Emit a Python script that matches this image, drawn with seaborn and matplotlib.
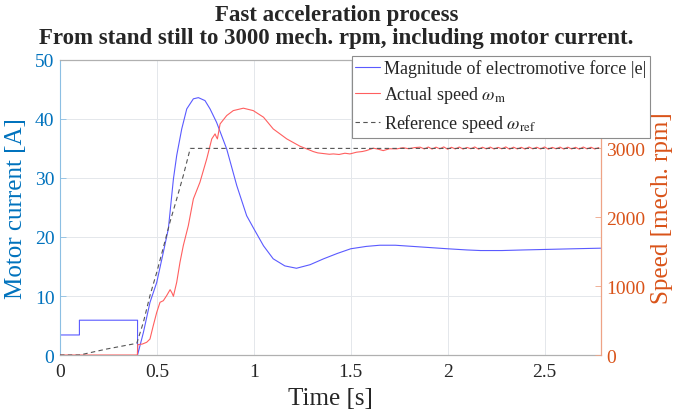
import matplotlib
matplotlib.use("Agg")
import matplotlib.pyplot as plt
from matplotlib.ticker import FormatStrFormatter
import seaborn as sns

# motor current / |e| (left axis, A)
cur_t = [0, 0.1, 0.1, 0.4, 0.4, 0.43, 0.464, 0.499, 0.533, 0.559, 0.585, 0.602, 0.628,
         0.654, 0.688, 0.714, 0.748, 0.774, 0.808, 0.86, 0.912, 0.963, 1.0, 1.05, 1.10,
         1.16, 1.22, 1.29, 1.36, 1.43, 1.50, 1.58, 1.65, 1.73, 1.82, 1.91, 2.0, 2.1,
         2.17, 2.28, 2.39, 2.52, 2.65, 2.79]
cur_a = [3.4, 3.4, 5.9, 5.9, 0.0, 3.8, 8.9, 12.3, 17.4, 21.4, 29.8, 33.8, 38.3,
         41.7, 43.4, 43.6, 43.1, 41.7, 39.4, 34.9, 28.7, 23.6, 21.4, 18.5, 16.3,
         15.1, 14.7, 15.3, 16.3, 17.2, 18.0, 18.4, 18.6, 18.6, 18.4, 18.2, 18.0, 17.8,
         17.7, 17.7, 17.8, 17.9, 18.0, 18.1]

# actual speed (right axis, rpm)
spd_t = [0, 0.399, 0.401, 0.425, 0.447, 0.464, 0.481, 0.499, 0.516, 0.533, 0.55, 0.568,
         0.578, 0.585, 0.602, 0.619, 0.636, 0.662, 0.688, 0.722, 0.757, 0.783, 0.80,
         0.806, 0.812, 0.826, 0.86, 0.894, 0.946, 0.997, 1.05, 1.10, 1.17, 1.238, 1.28,
         1.307, 1.33, 1.36, 1.39, 1.41, 1.44, 1.47, 1.496, 1.53, 1.56, 1.58, 1.617,
         1.64, 1.668, 1.70, 1.737, 1.77, 1.80, 1.83, 1.858,
         1.88, 1.90, 1.92, 1.94, 1.96, 1.98, 2.00, 2.02, 2.04, 2.06, 2.08, 2.10, 2.12,
         2.14, 2.16, 2.18, 2.20, 2.22, 2.24, 2.26, 2.28, 2.30, 2.32, 2.34, 2.36, 2.38,
         2.40, 2.42, 2.44, 2.46, 2.48, 2.50, 2.52, 2.54, 2.56, 2.58, 2.60, 2.62, 2.64,
         2.66, 2.68, 2.70, 2.72, 2.74, 2.76, 2.78]
spd_rpm = [0, 0, 150, 160, 185, 232, 426, 620, 766, 789, 862, 949,
           900, 853, 1056, 1347, 1588, 1879, 2266, 2509, 2848, 3138, 3211,
           3170, 3138, 3356, 3477, 3549, 3584, 3549, 3453, 3283, 3138, 3032, 2985,
           2954, 2935, 2925, 2915, 2920, 2912, 2930, 2920, 2945, 2955, 2968, 3003,
           2990, 2968, 2995, 2993, 3010, 2995, 3012, 3018,
           2992, 3020, 2990, 3018, 2994, 3022, 2988, 3016, 2992, 3020, 2990, 3014, 2995,
           3021, 2989, 3017, 2993, 3019, 2991, 3015, 2994, 3022, 2988, 3018, 2992, 3016,
           2990, 3020, 2993, 3017, 2991, 3021, 2989, 3015, 2994, 3019, 2990, 3018, 2992,
           3016, 2989, 3020, 2993, 3017, 2991, 3012]

# reference speed (right axis, rpm)
ref_t = [0, 0.1, 0.24, 0.396, 0.43, 0.464, 0.499, 0.533, 0.567, 0.602, 0.636, 0.672, 2.79]
ref_rpm = [0, 0, 87, 170, 475, 862, 1201, 1560, 1928, 2266, 2605, 3000, 3000]

title = "Fast acceleration process\nFrom stand still to 3000 mech. rpm, including motor current."
lab_cur = "Magnitude of electromotive force |e|"
lab_spd = r"Actual speed $\omega_{\mathrm{m}}$"
lab_ref = r"Reference speed $\omega_{\mathrm{ref}}$"

c_left = "#0072BD"
c_right = "#D95319"

sns.set_style("white")
plt.rcParams["font.family"] = ["Liberation Serif", "DejaVu Serif"]
plt.rcParams["mathtext.fontset"] = "stix"

fig = plt.figure(figsize=(6.73, 4.14), dpi=100)
ax = fig.add_axes([0.0892, 0.140, 0.8034, 0.713])
ax2 = ax.twinx()

sns.lineplot(x=cur_t, y=cur_a, ax=ax, color="#5a5aff", linewidth=0.8,
             sort=False, estimator=None, label=lab_cur, legend=False)
sns.lineplot(x=spd_t, y=spd_rpm, ax=ax2, color="#ff5f5f", linewidth=0.8,
             sort=False, estimator=None, label=lab_spd, legend=False)
sns.lineplot(x=ref_t, y=ref_rpm, ax=ax2, color="#555555", linewidth=0.8,
             sort=False, estimator=None, label=lab_ref, legend=False)
ax2.lines[-1].set_dashes((4, 3))

ax.set_xlim(0, 2.79)
ax.set_ylim(0, 50)
ax2.set_ylim(0, 3000 * 50 / 35)
ax.set_xticks([0, 0.5, 1, 1.5, 2, 2.5])
ax.xaxis.set_major_formatter(FormatStrFormatter("%g"))
ax.set_yticks([0, 10, 20, 30, 40, 50])
ax2.set_yticks([0, 1000, 2000, 3000])

ax.grid(True, color="#e4e7eb", linewidth=0.7)
ax2.grid(False)

ax.tick_params(axis="x", direction="in", length=4, width=0.6, colors="#aaaaaa",
               labelcolor="#262626", labelsize=14, pad=6)
ax.tick_params(axis="y", direction="in", length=4, width=0.6, colors="#8cbfe3",
               labelcolor=c_left, labelsize=14, pad=4)
ax2.tick_params(axis="y", direction="in", length=4, width=0.6, colors="#eea386",
                labelcolor=c_right, labelsize=14, pad=4)

for s in ["top", "bottom"]:
    ax.spines[s].set_color("#b0b0b0")
    ax.spines[s].set_linewidth(0.9)
ax.spines["left"].set_color("#8cbfe3")
ax.spines["right"].set_visible(False)
for s in ["left", "top", "bottom"]:
    ax2.spines[s].set_visible(False)
ax2.spines["right"].set_color("#eea386")
ax2.spines["right"].set_linewidth(0.9)

ax.set_xlabel("Time [s]", fontsize=18, color="#262626", labelpad=5)
ax.set_ylabel("Motor current [A]", fontsize=18, color=c_left, labelpad=6)
ax2.set_ylabel("Speed [mech. rpm]", fontsize=18, color=c_right, labelpad=4)

fig.suptitle(title, fontsize=16.5, fontweight="bold", y=0.988, linespacing=1.15)

handles = ax.get_lines()[:1] + ax2.get_lines()[:2]
leg = ax2.legend(handles, [lab_cur, lab_spd, lab_ref], loc="upper right",
                 bbox_to_anchor=(1.091, 1.0136), frameon=True, fancybox=False,
                 edgecolor="#8c8c8c", framealpha=1, fontsize=13, handlelength=1.4,
                 borderpad=0.2, labelspacing=0.38, handletextpad=0.2, borderaxespad=0)
leg.get_frame().set_linewidth(0.8)

fig.savefig("out.png", dpi=100)
